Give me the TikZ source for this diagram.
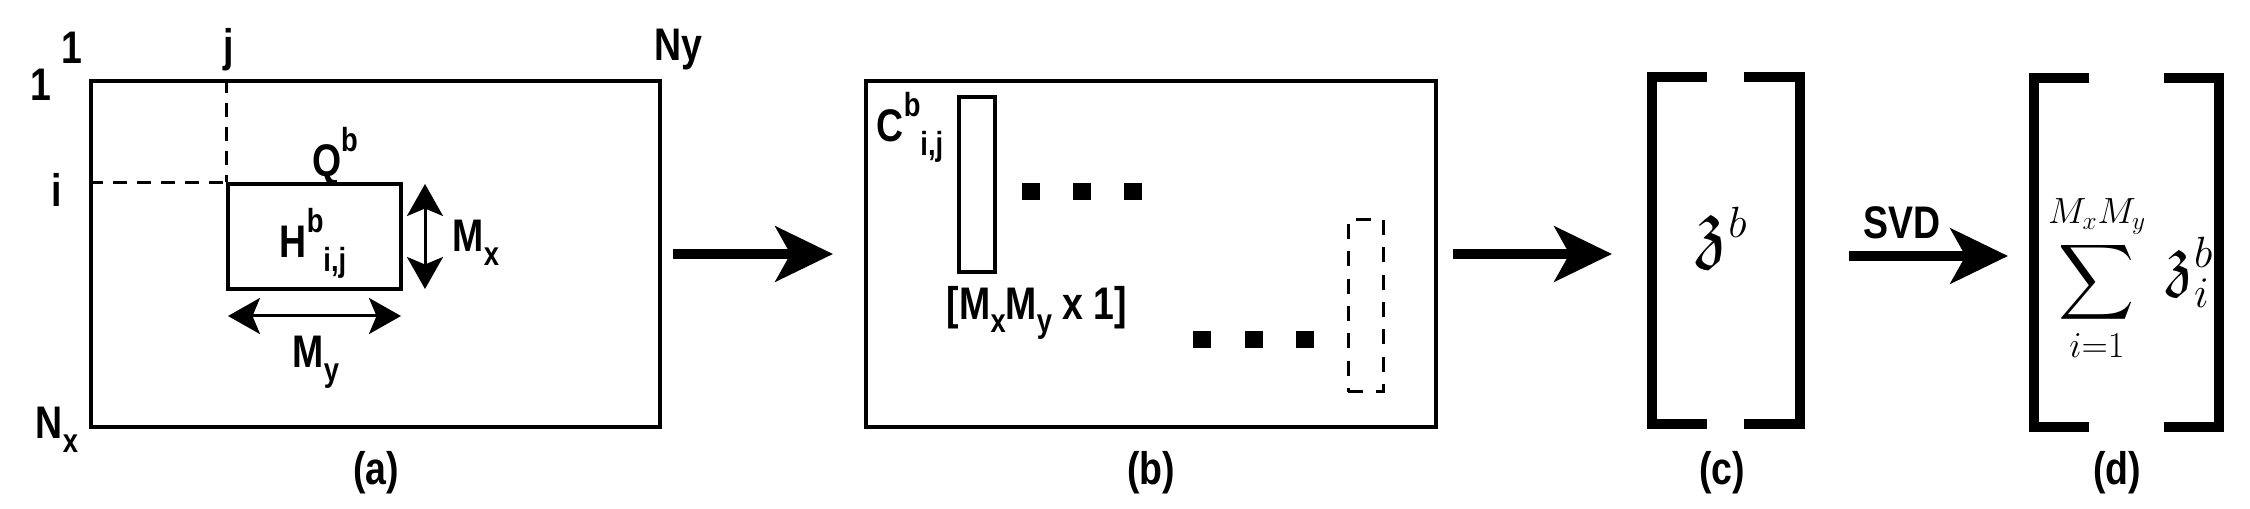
\documentclass[tikz,border=0pt]{standalone}
\usepackage{fontspec}
\usepackage{amssymb}
\setmainfont{Liberation Sans}[FakeStretch=0.82]
\usetikzlibrary{arrows.meta}
\newcommand\hiS[1]{\raisebox{0.55em}{\fontsize{19}{19}\selectfont #1}}
\newcommand\loS[1]{\raisebox{-0.3em}{\fontsize{19}{19}\selectfont #1}}
\begin{document}
\begin{tikzpicture}[x=0.02cm,y=-0.02cm,
  lab/.style={font=\fontsize{26}{28}\selectfont\bfseries, inner sep=0},
  box/.style={draw, line width=0.08cm, inner sep=0},
  dot/.style={fill, inner sep=0, minimum width=0.36cm, minimum height=0.34cm},
  big/.style={line width=0.2cm, -{Stealth[length=1.15cm,width=1.1cm,inset=0.3cm]}},
  dim/.style={line width=0.06cm, {Stealth[length=0.64cm,width=0.72cm,inset=0.15cm]}-{Stealth[length=0.64cm,width=0.72cm,inset=0.15cm]}},
  brk/.style={line width=0.2cm}]
\useasboundingbox (0,0) rectangle (2250,509);
% panel a
\node[box, minimum width=11.38cm, minimum height=6.92cm] (A) at (375.5,254) {};
\node[box, minimum width=3.46cm, minimum height=2.1cm] (H) at (314.5,236.5) {};
\draw[dashed, line width=0.06cm, dash pattern=on 0.28cm off 0.2cm] (A.west |- H.north) -- (H.north west);
\draw[dashed, line width=0.06cm, dash pattern=on 0.28cm off 0.2cm] (A.north -| H.west) -- (H.north west);
\node[lab] (l1t) at (72,48) {1};
\node[lab] (l1l) at (41,85) {1};
\node[lab] (lj) at (229,50) {j};
\node[lab] (lNy) at (678,50) {Ny};
\node[lab] (li) at (57,190) {i};
\node[lab] (lQ) at (335,156) {Q\hiS{b}};
\node[lab] (lH) at (313,243) {H\hiS{b}\loS{i,j}};
\coordinate (mxt) at (425,184); \coordinate (mxb) at (425,289);
\draw[dim] (mxt) -- (mxb);
\node[lab] (lMx) at (476,243) {M\loS{x}};
\coordinate (myl) at (228,316); \coordinate (myr) at (401,316);
\draw[dim] (myl) -- (myr);
\node[lab] (lMy) at (316,362) {M\loS{y}};
\node[lab] (lNx) at (57,430) {N\loS{x}};
\node[lab] (ca) at (376,473) {(a)};
% arrow 1
\node[box, minimum width=11.4cm, minimum height=6.92cm] (B) at (1151,254) {};
\coordinate (a1s) at (673,254); \coordinate (a1e) at (833,254);
\draw[big] (a1s) -- (a1e);
% panel b
\node[box, minimum width=0.72cm, minimum height=3.5cm] (C) at (977,184.5) {};
\node[lab] (lC) at (910,127) {C\hiS{b}\loS{i,j}};
\node[dot] (d1) at (1031,192) {};
\node[dot] (d2) at (1082,192) {};
\node[dot] (d3) at (1133,192) {};
\node[lab] (lsz) at (1037,313) {[M\loS{x}M\loS{y} x 1]};
\node[dot] (d4) at (1202,340) {};
\node[dot] (d5) at (1254,340) {};
\node[dot] (d6) at (1305,340) {};
\node[draw, dashed, line width=0.06cm, dash pattern=on 0.3cm off 0.25cm, inner sep=0, minimum width=0.7cm, minimum height=3.46cm] (D) at (1365.5,305.5) {};
\node[lab] (cb) at (1151,473) {(b)};
% panel c
\coordinate (a2s) at (1453,254); \coordinate (a2e) at (1612,254);
\draw[big] (a2s) -- (a2e);
\draw[brk] (1707,77) -- (1652,77) -- (1652,424) -- (1707,424);
\draw[brk] (1744,77) -- (1800,77) -- (1800,424) -- (1744,424);
\node (zc) at (1722,238) {\fontsize{46}{50}\selectfont$\mathfrak{z}^{b}$};
\node[lab] (cc) at (1722,473) {(c)};
% SVD
\coordinate (a3s) at (1849,256); \coordinate (a3e) at (2008,256);
\draw[big] (a3s) -- (a3e);
\node[lab] (svd) at (1902,223) {SVD};
% panel d
\draw[brk] (2089,78) -- (2034,78) -- (2034,427) -- (2089,427);
\draw[brk] (2164,78) -- (2219,78) -- (2219,427) -- (2164,427);
\node[inner sep=0] (sum) at (2097,278) {\fontsize{30}{34}\selectfont$\displaystyle\sum_{i=1}^{M_xM_y}$};
\node[inner sep=0] (zd) at (2190,272) {\fontsize{40}{44}\selectfont$\mathfrak{z}_{i}^{b}$};
\node[lab] (cd) at (2117,473) {(d)};
\end{tikzpicture}
\end{document}
